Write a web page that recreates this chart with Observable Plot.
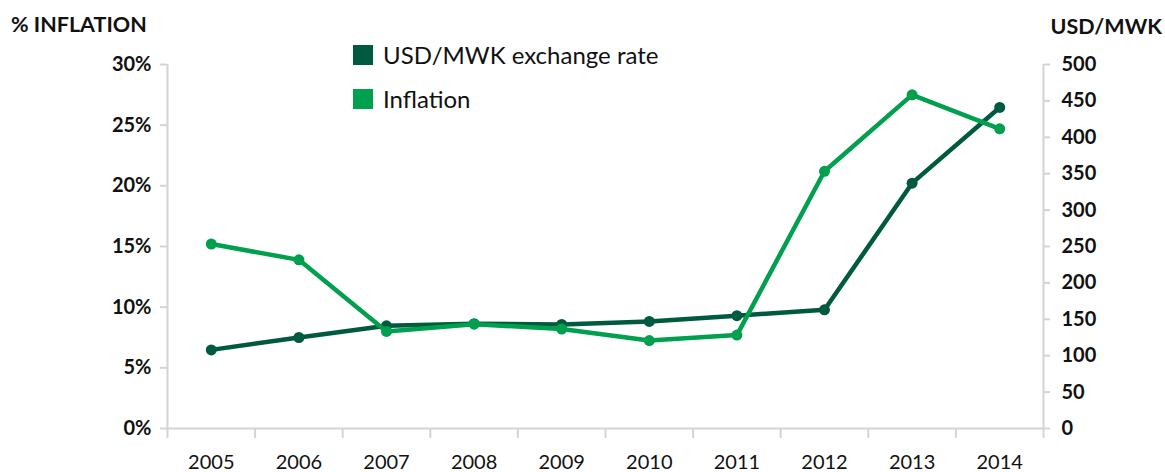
<!DOCTYPE html>
<html>
<head>
<meta charset="utf-8">
<script src="https://cdn.jsdelivr.net/npm/d3@7"></script>
<script src="https://cdn.jsdelivr.net/npm/@observablehq/plot@0.6"></script>
<style>
  html, body { margin: 0; padding: 0; background: #fff; }
  #wrap { position: relative; width: 1165px; height: 472px; overflow: hidden; font-family: Lato, "Open Sans", sans-serif; color: #111; }
  .title { position: absolute; font-weight: 700; font-size: 21.5px; }
  .legend { position: absolute; left: 353px; font-size: 24px; display: flex; align-items: center; line-height: 28px; }
  .legend span.sw { display: inline-block; width: 20px; height: 20px; margin-right: 10px; }
</style>
</head>
<body>
<div id="wrap"></div>
<script>
const years = [2005, 2006, 2007, 2008, 2009, 2010, 2011, 2012, 2013, 2014];
const inflation = [15.2, 13.9, 8.0, 8.6, 8.2, 7.25, 7.7, 21.2, 27.5, 24.7];
const exchangeRate = [108, 125, 141, 144, 143, 147, 155, 163, 337, 441];
const leftTicks = [0, 5, 10, 15, 20, 25, 30];
const rightTicks = [0, 50, 100, 150, 200, 250, 300, 350, 400, 450, 500];
const seriesNames = ["USD/MWK exchange rate", "Inflation"];
const colors = ["#005a3f", "#00a04f"];

const k = 30 / 500; // right axis (USD/MWK) mapped onto left axis (%)
const infData = years.map((y, i) => ({year: y, v: inflation[i]}));
const exData = years.map((y, i) => ({year: y, v: exchangeRate[i] * k}));
const bounds = d3.range(years[0] - 0.5, years[years.length - 1] + 1, 1);

const grey = "#d4d4d4";
const chart = Plot.plot({
  width: 1165,
  height: 472,
  marginLeft: 167,
  marginRight: 122,
  marginTop: 64,
  marginBottom: 44,
  style: {fontFamily: "Lato, 'Open Sans', sans-serif", fontSize: "19px", color: "#111", background: "#fff"},
  x: {domain: [years[0] - 0.5, years[years.length - 1] + 0.5]},
  y: {domain: [0, 30]},
  marks: [
    Plot.ruleX([bounds[0], bounds[bounds.length - 1]], {y1: 0, y2: 30, stroke: grey, strokeWidth: 2}),
    Plot.ruleY([0], {stroke: grey, strokeWidth: 2}),
    Plot.axisX(bounds, {tickSize: 10, tickFormat: () => "", stroke: grey, strokeWidth: 2, label: null}),
    Plot.axisX(years, {tickSize: 0, tickPadding: 26, tickFormat: d => String(d), label: null, fontSize: 20}),
    Plot.axisY(leftTicks, {anchor: "left", tickSize: 7, tickPadding: 9, tickFormat: d => d + "%", stroke: grey, strokeWidth: 2, label: null, fontSize: 20, fontWeight: 700}),
    Plot.axisY(rightTicks.map(v => v * k), {anchor: "right", tickSize: 6, tickPadding: 12, tickFormat: d => String(Math.round(d / k)), stroke: grey, strokeWidth: 2, label: null, fontSize: 20, fontWeight: 700}),
    Plot.line(exData, {x: "year", y: "v", stroke: colors[0], strokeWidth: 4.5}),
    Plot.dot(exData, {x: "year", y: "v", fill: colors[0], r: 5.5}),
    Plot.line(infData, {x: "year", y: "v", stroke: colors[1], strokeWidth: 4.5}),
    Plot.dot(infData, {x: "year", y: "v", fill: colors[1], r: 5.5})
  ]
});

d3.select(chart).selectAll('g[aria-label="y-axis tick label"]').attr("font-weight", 700).selectAll("text").style("font-weight", 700);

const wrap = document.getElementById("wrap");
wrap.appendChild(chart);

const t1 = document.createElement("div");
t1.className = "title"; t1.textContent = "% INFLATION";
t1.style.left = "11px"; t1.style.top = "11px";
wrap.appendChild(t1);
const t2 = document.createElement("div");
t2.className = "title"; t2.textContent = "USD/MWK";
t2.style.right = "3px"; t2.style.top = "13px";
wrap.appendChild(t2);

seriesNames.forEach((name, i) => {
  const d = document.createElement("div");
  d.className = "legend";
  d.style.top = (41 + i * 44) + "px";
  const sw = document.createElement("span");
  sw.className = "sw"; sw.style.background = colors[i];
  d.appendChild(sw);
  d.appendChild(document.createTextNode(name));
  wrap.appendChild(d);
});
</script>
</body>
</html>
